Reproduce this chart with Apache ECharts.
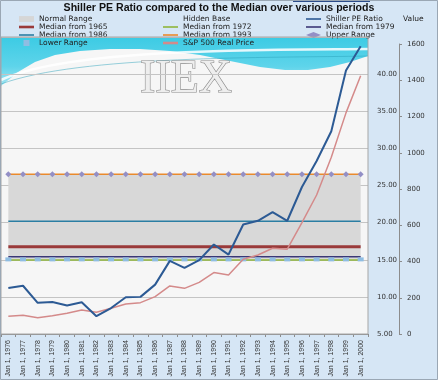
<!DOCTYPE html>
<html><head><meta charset="utf-8">
<script src="https://cdn.jsdelivr.net/npm/echarts@6/dist/echarts.min.js"></script>
<style>html,body{margin:0;padding:0;background:#d6e6f5}#c{width:438px;height:380px}</style>
</head><body><div id="c"></div>
<script>
const categories = ['Jan 1, 1976','Jan 1, 1977','Jan 1, 1978','Jan 1, 1979','Jan 1, 1980','Jan 1, 1981','Jan 1, 1982','Jan 1, 1983','Jan 1, 1984','Jan 1, 1985','Jan 1, 1986','Jan 1, 1987','Jan 1, 1988','Jan 1, 1989','Jan 1, 1990','Jan 1, 1991','Jan 1, 1992','Jan 1, 1993','Jan 1, 1994','Jan 1, 1995','Jan 1, 1996','Jan 1, 1997','Jan 1, 1998','Jan 1, 1999','Jan 1, 2000'];
const shillerPE = [11.2, 11.5, 9.2, 9.3, 8.85, 9.27, 7.4, 8.5, 9.95, 10.0, 11.65, 14.85, 13.9, 14.95, 17.05, 15.7, 19.75, 20.25, 21.4, 20.25, 24.8, 28.3, 32.3, 40.5, 43.75];
const sp500Real = [98, 103, 90, 101, 114, 132, 120, 142, 166, 173, 206, 265, 252, 285, 339, 326, 412, 436, 473, 468, 615, 767, 975, 1220, 1425];
const hiddenBase = [15.05,15.05,15.05,15.05,15.05,15.05,15.05,15.05,15.05,15.05,15.05,15.05,15.05,15.05,15.05,15.05,15.05,15.05,15.05,15.05,15.05,15.05,15.05,15.05,15.05];
const normalRange = [11.45,11.45,11.45,11.45,11.45,11.45,11.45,11.45,11.45,11.45,11.45,11.45,11.45,11.45,11.45,11.45,11.45,11.45,11.45,11.45,11.45,11.45,11.45,11.45,11.45];
const median1965 = [16.75,16.75,16.75,16.75,16.75,16.75,16.75,16.75,16.75,16.75,16.75,16.75,16.75,16.75,16.75,16.75,16.75,16.75,16.75,16.75,16.75,16.75,16.75,16.75,16.75];
const median1972 = [14.95,14.95,14.95,14.95,14.95,14.95,14.95,14.95,14.95,14.95,14.95,14.95,14.95,14.95,14.95,14.95,14.95,14.95,14.95,14.95,14.95,14.95,14.95,14.95,14.95];
const median1979 = [15.4,15.4,15.4,15.4,15.4,15.4,15.4,15.4,15.4,15.4,15.4,15.4,15.4,15.4,15.4,15.4,15.4,15.4,15.4,15.4,15.4,15.4,15.4,15.4,15.4];
const median1986 = [20.2,20.2,20.2,20.2,20.2,20.2,20.2,20.2,20.2,20.2,20.2,20.2,20.2,20.2,20.2,20.2,20.2,20.2,20.2,20.2,20.2,20.2,20.2,20.2,20.2];
const median1993 = [26.5,26.5,26.5,26.5,26.5,26.5,26.5,26.5,26.5,26.5,26.5,26.5,26.5,26.5,26.5,26.5,26.5,26.5,26.5,26.5,26.5,26.5,26.5,26.5,26.5];
const upperRange = [26.5,26.5,26.5,26.5,26.5,26.5,26.5,26.5,26.5,26.5,26.5,26.5,26.5,26.5,26.5,26.5,26.5,26.5,26.5,26.5,26.5,26.5,26.5,26.5,26.5];
const lowerRange = [15.05,15.05,15.05,15.05,15.05,15.05,15.05,15.05,15.05,15.05,15.05,15.05,15.05,15.05,15.05,15.05,15.05,15.05,15.05,15.05,15.05,15.05,15.05,15.05,15.05];

const chart = echarts.init(document.getElementById('c'), null, {renderer: 'canvas'});
const legText = {fontSize: 7.5, fontFamily: 'DejaVu Sans', color: '#222', lineHeight: 7.7};
const legBase = {orient: 'vertical', top: 15, itemWidth: 15, itemHeight: 6, itemGap: 0, padding: 0, textStyle: legText, selectedMode: false};
const lineIcon = 'path://M0,0h15v1.6h-15z';
const thickIcon = 'path://M0,0h15v2.6h-15z';
function lineS(name, data, color, width, z) {
  return {name, type: 'line', data, xAxisIndex: 0, yAxisIndex: 0, symbol: 'none', animation: false, z: z || 3,
    lineStyle: {color, width}, itemStyle: {color}};
}
chart.setOption({
  backgroundColor: '#d6e6f5',
  animation: false,
  title: {text: 'Shiller PE Ratio compared to the Median over various periods', left: 'center', top: 2, padding: 0,
    textStyle: {fontSize: 10.6, fontWeight: 'bold', fontFamily: 'Liberation Sans', color: '#111', lineHeight: 12}},
  legend: [
    Object.assign({}, legBase, {left: 19, data: [
      {name: 'Normal Range', icon: 'path://M0,0h13v5h-13z', itemStyle: {color: '#d6d6d6'}},
      {name: 'Median from 1965', icon: thickIcon},
      {name: 'Median from 1986', icon: lineIcon},
      {name: 'Lower Range', icon: 'path://M0,0h4v4h-4z', itemStyle: {color: '#8fbde2'}}]}),
    Object.assign({}, legBase, {left: 163, data: [
      {name: 'Hidden Base', icon: 'rect', itemStyle: {color: 'rgba(0,0,0,0)'}},
      {name: 'Median from 1972', icon: lineIcon},
      {name: 'Median from 1993', icon: lineIcon},
      {name: 'S&P 500 Real Price', icon: thickIcon}]}),
    Object.assign({}, legBase, {left: 306, data: [
      {name: 'Shiller PE Ratio', icon: lineIcon},
      {name: 'Median from 1979', icon: lineIcon},
      {name: 'Upper Range', icon: 'diamond', itemStyle: {color: '#938fc6'}}]})
  ],
  graphic: {elements: [
    {type: 'rect', shape: {x: 1, y: 37, width: 367, height: 297}, style: {fill: '#f6f6f6'}, z: -20, silent: true},
    {type: 'polygon', shape: {points: [[1,37],[368,37],[368,56],[350,62],[330,67],[308,70],[285,70],[260,67],[230,61],[200,55],[170,51],[140,49],[110,49],[80,51],[55,55],[35,62],[18,72],[1,86]]},
      style: {fill: new echarts.graphic.LinearGradient(0, 0, 0, 1, [{offset: 0, color: '#3ccbe4'}, {offset: 0.6, color: '#5ed4ea'}, {offset: 1, color: '#a6e6f3'}])}, z: -19, silent: true},
    {type: 'bezierCurve', shape: {x1: 1, y1: 80, cpx1: 70, cpy1: 48, cpx2: 260, cpy2: 50, x2: 368, y2: 49},
      style: {fill: null, stroke: 'rgba(255,255,255,0.85)', lineWidth: 2.5}, z: -18, silent: true},
    {type: 'bezierCurve', shape: {x1: 1, y1: 84, cpx1: 80, cpy1: 55, cpx2: 270, cpy2: 58, x2: 368, y2: 56},
      style: {fill: null, stroke: 'rgba(40,160,185,0.6)', lineWidth: 0.8}, z: -18, silent: true},
    {type: 'text', x: 140, y: 57, style: {text: 'IIEX', font: '46px "Liberation Serif"', fill: '#eeeeee', stroke: '#8c8c8c', lineWidth: 1.2,
      shadowColor: 'rgba(0,0,0,0.35)', shadowBlur: 2, shadowOffsetX: 1.5, shadowOffsetY: 1.5}, z: -17, silent: true},
    {type: 'rect', shape: {x: 1, y: 37, width: 367, height: 297}, style: {fill: null, stroke: '#a6a6a6', lineWidth: 1}, z: 10, silent: true},
    {type: 'rect', shape: {x: 293, y: 0, width: 77, height: 2}, style: {fill: '#2b4c8a'}, z: 10, silent: true},
    {type: 'rect', shape: {x: 0.5, y: 0.5, width: 437, height: 379}, style: {fill: null, stroke: '#9aa7b4', lineWidth: 1}, z: 10, silent: true},
    {type: 'text', x: 403, y: 15, style: {text: 'Value', font: '7.5px "DejaVu Sans"', fill: '#222'}, z: 10, silent: true}
  ]},
  grid: [
    {left: 1, right: 70, top: 37, bottom: 46, show: false},
    {left: 1, right: 70, top: 44, bottom: 46, show: false}
  ],
  xAxis: [
    {type: 'category', gridIndex: 0, data: categories, boundaryGap: true,
      axisLine: {lineStyle: {color: '#8c8c8c'}}, axisTick: {show: true, length: 3, lineStyle: {color: '#8c8c8c'}},
      axisLabel: {interval: 0, rotate: 90, margin: 6, fontSize: 7, fontFamily: 'Liberation Sans', color: '#333'}},
    {type: 'category', gridIndex: 1, data: categories, boundaryGap: true, show: false}
  ],
  yAxis: [
    {type: 'value', gridIndex: 0, position: 'right', min: 5, max: 45, interval: 5,
      axisLine: {show: false}, axisTick: {show: false},
      splitLine: {lineStyle: {color: '#c4c4c4', width: 1}},
      axisLabel: {margin: 9, showMaxLabel: false, fontSize: 7, fontFamily: 'DejaVu Sans', color: '#333', formatter: v => v.toFixed(2)}},
    {type: 'value', gridIndex: 1, position: 'right', offset: 31, min: 0, max: 1600, interval: 200,
      axisLine: {show: true, lineStyle: {color: '#8c8c8c'}}, axisTick: {show: true, length: 3, lineStyle: {color: '#8c8c8c'}},
      splitLine: {show: false},
      axisLabel: {margin: 8, fontSize: 7, fontFamily: 'DejaVu Sans', color: '#333', formatter: v => String(v)}}
  ],
  series: [
    {name: 'Hidden Base', type: 'line', stack: 'range', data: hiddenBase, symbol: 'none', z: 1,
      lineStyle: {width: 0, opacity: 0}, areaStyle: {opacity: 0}, itemStyle: {color: 'rgba(0,0,0,0)'}},
    {name: 'Normal Range', type: 'line', stack: 'range', data: normalRange, symbol: 'none', z: 1,
      lineStyle: {width: 0, opacity: 0}, areaStyle: {color: '#d8d8d8', opacity: 1}, itemStyle: {color: '#d8d8d8'}},
    lineS('Median from 1965', median1965, '#9a3a3a', 3),
    lineS('Median from 1972', median1972, '#8fb53a', 1.5),
    lineS('Median from 1979', median1979, '#3b3877', 1.5),
    lineS('Median from 1986', median1986, '#2b7ea3', 1.5),
    lineS('Median from 1993', median1993, '#ea8a2c', 1.5),
    {name: 'Upper Range', type: 'line', data: upperRange, symbol: 'diamond', symbolSize: 6, showSymbol: true, z: 4,
      lineStyle: {width: 0, opacity: 0}, itemStyle: {color: '#938fc6'}},
    {name: 'Lower Range', type: 'line', data: lowerRange, symbol: 'rect', symbolSize: [6, 4], showSymbol: true, z: 4,
      lineStyle: {width: 0, opacity: 0}, itemStyle: {color: '#8fbde2'}},
    {name: 'S&P 500 Real Price', type: 'line', data: sp500Real, xAxisIndex: 1, yAxisIndex: 1, symbol: 'none', z: 5,
      lineStyle: {color: '#d48a8a', width: 1.5}, itemStyle: {color: '#d48a8a'}},
    lineS('Shiller PE Ratio', shillerPE, '#2c5a94', 2, 6)
  ]
});
</script></body></html>
